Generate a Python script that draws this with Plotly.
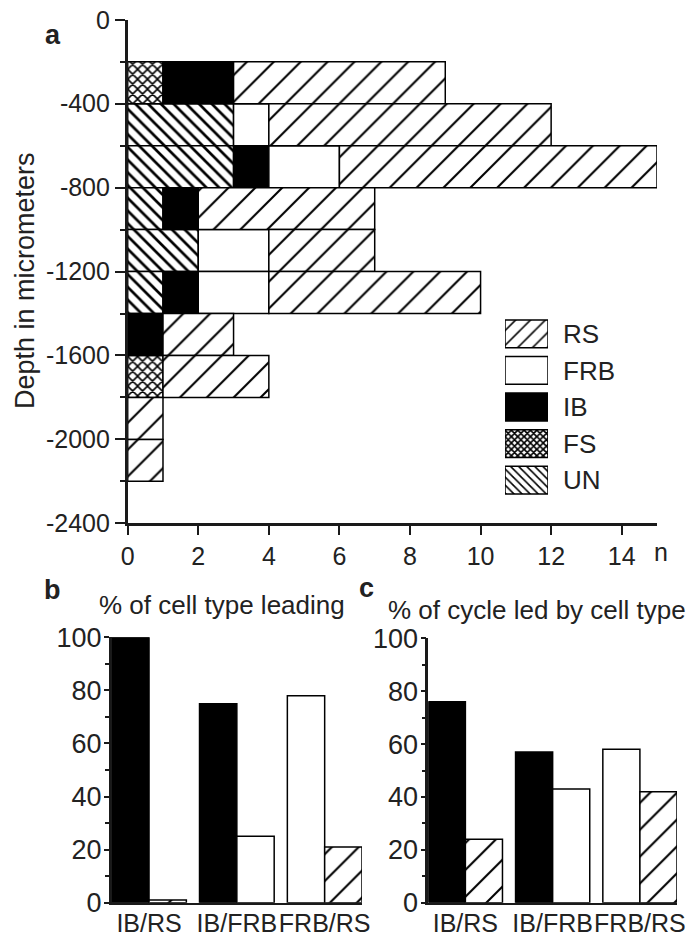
import numpy as np
import plotly.graph_objects as go

# ---------------- data ----------------
# Panel a: cell counts per 200-um depth bin (bin centres, um)
depth_centers = [-300, -500, -700, -900, -1100, -1300, -1500, -1700, -1900, -2100]
UN = [0, 3, 3, 1, 2, 1, 0, 0, 0, 0]
FS = [1, 0, 0, 0, 0, 0, 0, 1, 0, 0]
IB = [2, 0, 1, 1, 0, 1, 1, 0, 0, 0]
FRB = [0, 1, 2, 0, 2, 2, 0, 0, 0, 0]
RS = [6, 8, 9, 5, 3, 6, 2, 3, 1, 1]
stack_order = ["UN", "FS", "IB", "FRB", "RS"]
legend_order = ["RS", "FRB", "IB", "FS", "UN"]
depth_tick_vals = [0, -400, -800, -1200, -1600, -2000, -2400]
depth_tick_labels = ["0", "-400", "-800", "-1200", "-1600", "-2000", "-2400"]
n_tick_vals = [0, 2, 4, 6, 8, 10, 12, 14]

# Panels b and c
pairs = ["IB/RS", "IB/FRB", "FRB/RS"]
first_type = ["IB", "IB", "FRB"]
second_type = ["RS", "FRB", "RS"]
pct_leading_first = [100, 75, 78]
pct_leading_second = [1, 25, 21]
pct_cycle_first = [76, 57, 58]
pct_cycle_second = [24, 43, 42]
pct_tick_vals = [0, 20, 40, 60, 80, 100]

counts = {"UN": UN, "FS": FS, "IB": IB, "FRB": FRB, "RS": RS}

# ---------------- styles ----------------
W, H = 694, 939
FONT = "Liberation Sans, Arial, Helvetica, sans-serif"
INK = "#1a1a1a"
STYLE = {
    "RS": dict(color="white", shape="/", size=19, solidity=0.11),
    "FRB": dict(color="white", shape="", size=10, solidity=0.2),
    "IB": dict(color="black", shape="", size=10, solidity=0.2),
    "FS": dict(color="white", shape="x", size=7, solidity=0.4),
    "UN": dict(color="white", shape="\\", size=9, solidity=0.3),
}
LEGEND_STYLE = {"RS": (10.5, 0.15), "FRB": (10, 0.2), "IB": (10, 0.2), "FS": (4.5, 0.6), "UN": (5.7, 0.28)}


def hx(px):
    return px / W


def vy(py):
    return 1 - py / H


def marker_for(t, size=None, solidity=None):
    st = STYLE[t]
    return dict(color=st["color"], line=dict(color="black", width=1.5),
                pattern=dict(shape=st["shape"], size=size or st["size"],
                             solidity=solidity or st["solidity"],
                             fgcolor="black", bgcolor="white", fillmode="replace"))


fig = go.Figure()

# ---------------- panel a: stacked horizontal bars ----------------
cum = np.zeros(len(depth_centers))
for t in stack_order:
    vals = np.array(counts[t], dtype=float)
    xv = [v if v > 0 else None for v in vals]
    fig.add_trace(go.Bar(
        x=xv, y=depth_centers, base=cum.copy(), orientation="h", width=200,
        marker=marker_for(t), xaxis="x", yaxis="y", showlegend=False, name=t,
    ))
    cum = cum + vals


# ---------------- panels b, c: paired bars ----------------
def pair_traces(first_vals, second_vals, xa, ya):
    xs = list(range(len(pairs)))
    for vals, types, off in ((first_vals, first_type, -0.425), (second_vals, second_type, 0.0)):
        for t in sorted(set(types)):
            yv = [v if tt == t else None for v, tt in zip(vals, types)]
            fig.add_trace(go.Bar(
                x=xs, y=yv, offset=off, width=0.425, marker=marker_for(t),
                xaxis=xa, yaxis=ya, showlegend=False, name=t,
            ))


pair_traces(pct_leading_first, pct_leading_second, "x2", "y2")
pair_traces(pct_cycle_first, pct_cycle_second, "x3", "y3")

# ---------------- legend swatches as an inset ----------------
for t in legend_order:
    sz, sol = LEGEND_STYLE[t]
    fig.add_trace(go.Bar(
        x=[1], y=[t], orientation="h", width=0.76,
        marker=marker_for(t, sz, sol), xaxis="x4", yaxis="y4", showlegend=False, name=t,
    ))

axis_common = dict(showgrid=False, zeroline=False, showline=True, linecolor=INK, linewidth=2.5,
                   tickcolor=INK, tickwidth=2, automargin=False,
                   tickfont=dict(family=FONT, size=25, color="#222"))

minor_pct = dict(tickmode="linear", tick0=0, dtick=10, ticks="outside", ticklen=4,
                 tickcolor=INK, tickwidth=1.5)
cat_font = dict(family=FONT, size=25, color="#222")
pct_font = dict(family=FONT, size=27, color="#222")

fig.update_layout(
    width=W, height=H, margin=dict(l=0, r=0, t=0, b=0, pad=0), autosize=False,
    paper_bgcolor="white", plot_bgcolor="rgba(0,0,0,0)",
    barmode="overlay", font=dict(family=FONT, color="#222"),
    xaxis=dict(axis_common, domain=[hx(127.7), hx(657)], range=[0, 15], tickmode="array",
               tickvals=n_tick_vals, ticks="outside", ticklen=9, anchor="y"),
    yaxis=dict(axis_common, domain=[vy(523.3), vy(19.8)], range=[-2400, 0], tickmode="array",
               tickvals=depth_tick_vals, ticktext=depth_tick_labels, ticks="outside", ticklen=10,
               minor=dict(tickmode="linear", tick0=0, dtick=200, ticks="outside", ticklen=5,
                          tickcolor=INK, tickwidth=1.5),
               anchor="x"),
    xaxis2=dict(axis_common, domain=[hx(111.7), hx(362)], range=[-0.425, 2.425], tickmode="array",
                tickvals=list(range(len(pairs))), ticktext=pairs, ticks="", anchor="y2", tickangle=0,
                tickfont=cat_font, linewidth=2, ticklabelstandoff=-3),
    yaxis2=dict(axis_common, domain=[vy(902.7), vy(637.3)], range=[0, 100], tickmode="array",
                tickvals=pct_tick_vals, ticks="outside", ticklen=5, minor=minor_pct, anchor="x2",
                tickfont=pct_font, ticklabelstandoff=-3),
    xaxis3=dict(axis_common, domain=[hx(428.3), hx(677)], range=[-0.425, 2.425], tickmode="array",
                tickvals=list(range(len(pairs))), ticktext=pairs, ticks="", anchor="y3", tickangle=0,
                tickfont=cat_font, linewidth=2, ticklabelstandoff=-3),
    yaxis3=dict(axis_common, domain=[vy(902.7), vy(638.3)], range=[0, 100], tickmode="array",
                tickvals=pct_tick_vals, ticks="outside", ticklen=5, minor=minor_pct, anchor="x3",
                tickfont=pct_font, ticklabelstandoff=-3),
    xaxis4=dict(domain=[hx(505), hx(548)], range=[0, 1], visible=False, anchor="y4",
                fixedrange=True, automargin=False),
    yaxis4=dict(domain=[vy(498.3), vy(315.7)], type="category", categoryorder="array",
                categoryarray=legend_order, autorange="reversed", side="right", anchor="x4",
                showline=False, showgrid=False, zeroline=False, ticks="", ticklabelstandoff=14,
                automargin=False, tickfont=dict(family=FONT, size=26, color="#222")),
)

ann = [
    dict(text="<b>a</b>", x=hx(53), y=vy(35), size=27, angle=0),
    dict(text="<b>b</b>", x=hx(53), y=vy(590), size=27, angle=0),
    dict(text="<b>c</b>", x=hx(366), y=vy(588), size=27, angle=0),
    dict(text="Depth in micrometers", x=hx(25), y=vy(281), size=27, angle=-90),
    dict(text="n", x=hx(661), y=vy(552), size=25, angle=0),
    dict(text="% of cell type leading", x=hx(222), y=vy(605), size=26, angle=0),
    dict(text="% of cycle led by cell type", x=hx(537), y=vy(610), size=26, angle=0),
]
for a in ann:
    fig.add_annotation(text=a["text"], x=a["x"], y=a["y"], xref="paper", yref="paper",
                       showarrow=False, textangle=a["angle"], xanchor="center", yanchor="middle",
                       font=dict(family=FONT, size=a["size"], color="#222"))

fig.write_html("out.html")
